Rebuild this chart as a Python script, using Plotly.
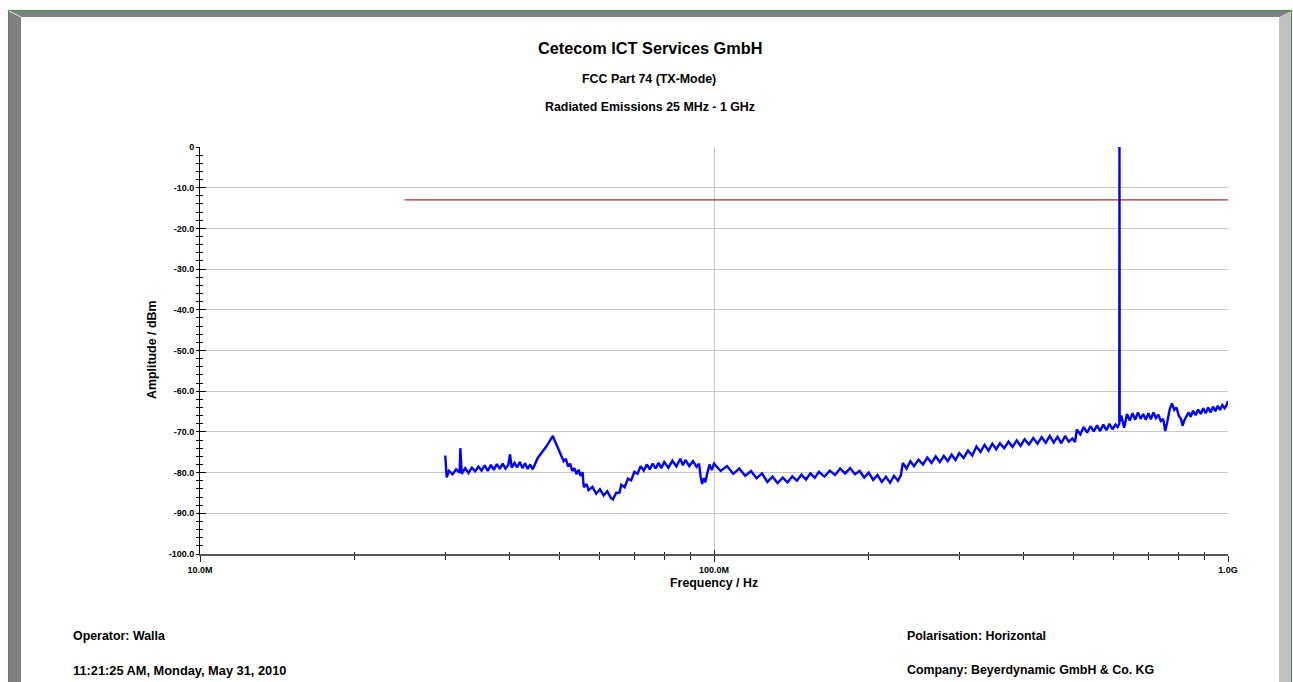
import plotly.graph_objects as go

# ---------------- data ----------------
# measured trace, frequency in MHz, amplitude in dBm
freq_a = [30.0, 30.2, 30.5, 31.0, 31.5, 32.0, 32.1, 32.3, 32.8, 33.3,
          33.8, 34.3, 34.8, 35.3, 35.8, 36.3, 36.8, 37.3, 37.8, 38.3,
          38.8, 39.3, 39.8, 40.1, 40.4, 40.9, 41.4, 41.9, 42.4, 42.9,
          43.4, 43.9, 44.4, 44.9, 45.4, 45.9, 46.4, 46.9, 47.4, 47.9,
          48.3, 48.6, 49.0, 49.5, 50.0, 50.5, 51.0, 51.5, 52.0, 52.5]
amp_a = [-75.8, -81.2, -79.6, -80.4, -79.2, -80.0, -74.0, -80.3, -78.9, -80.1,
         -78.8, -79.7, -78.5, -79.5, -78.2, -79.6, -78.1, -79.3, -77.9, -79.1,
         -77.8, -79.0, -78.1, -75.5, -78.8, -77.6, -78.7, -77.4, -78.9, -77.7,
         -79.1, -78.0, -79.2, -77.8, -76.4, -75.6, -74.9, -74.0, -73.2, -72.2,
         -71.3, -71.0, -72.2, -73.4, -74.6, -75.8, -77.2, -76.6, -78.5, -77.8]

freq_b = [53.0, 53.5, 54.0, 54.5, 55.0, 55.5, 55.8, 56.5, 57.0, 58.0,
          59.0, 60.0, 61.0, 62.0, 63.0, 63.6, 64.5, 65.5, 66.0, 67.0,
          68.0, 69.0, 70.0, 71.0, 72.0, 73.0, 74.0, 75.0, 76.0, 77.0,
          78.0, 79.0, 80.0, 81.5, 83.0, 84.5, 86.0, 87.0, 88.0, 89.5,
          91.0, 92.5, 93.5, 94.2, 94.8, 95.5, 96.2, 97.0, 98.0, 99.0]
amp_b = [-79.6, -78.9, -80.4, -79.3, -80.8, -79.9, -83.6, -82.8, -84.3, -83.5,
         -85.2, -84.1, -85.6, -84.6, -86.2, -86.6, -85.0, -84.9, -83.0, -83.6,
         -81.5, -81.9, -79.8, -80.3, -78.4, -79.5, -78.0, -79.2, -77.8, -79.0,
         -77.6, -78.9, -77.4, -78.8, -77.1, -78.5, -76.6, -78.2, -76.9, -78.4,
         -77.2, -78.6, -77.8, -81.0, -82.8, -81.4, -82.4, -80.2, -78.0, -79.4]

freq_c = [100, 103, 106, 109, 112, 115, 118, 121, 124, 127,
          130, 133, 136, 139, 142, 145, 148, 151, 154, 157,
          160, 164, 168, 172, 176, 180, 184, 188, 192, 196,
          200, 204, 208, 212, 216, 220, 224, 228, 231, 233]
amp_c = [-77.8, -79.6, -78.4, -80.3, -79.0, -80.8, -79.6, -81.4, -80.2, -82.3,
         -81.0, -82.6, -81.2, -82.4, -80.9, -82.0, -80.5, -81.7, -80.2, -81.3,
         -79.8, -81.0, -79.5, -80.6, -79.0, -80.2, -78.9, -80.4, -79.6, -81.2,
         -80.0, -81.8, -80.6, -82.3, -81.0, -82.5, -80.8, -82.0, -80.6, -77.6]

freq_d = [237, 241, 245, 250, 255, 260, 265, 270, 275, 280,
          285, 290, 295, 300, 306, 312, 318, 324, 330, 336,
          342, 348, 354, 360, 367, 374, 381, 388, 395, 402,
          410, 418, 426, 434, 442, 450, 458, 466, 474, 482,
          490, 498, 504]
amp_d = [-79.0, -77.2, -78.4, -76.8, -78.0, -76.3, -77.6, -76.0, -77.4, -75.9,
         -77.2, -75.6, -76.9, -75.2, -76.4, -74.6, -75.8, -73.6, -74.9, -73.2,
         -74.6, -72.9, -74.3, -72.8, -74.0, -72.4, -73.7, -72.1, -73.4, -71.8,
         -73.1, -71.5, -72.9, -71.3, -72.7, -71.0, -72.6, -71.2, -72.8, -71.0,
         -72.4, -71.6, -72.5]

freq_e = [508, 516, 524, 532, 540, 548, 556, 564, 572, 580,
          588, 596, 604, 610, 614.5, 615, 615.5, 620, 628, 636,
          644, 652, 660, 668, 676, 684, 692, 700, 708, 716,
          724, 732, 740, 748, 755, 762, 770, 778, 786, 794,
          802, 810, 816, 822, 830, 838, 846, 855, 865, 875,
          885, 895, 905, 915, 925, 935, 945, 955, 965, 975,
          985, 993, 1000]
amp_e = [-69.4, -70.6, -68.8, -70.2, -68.6, -69.9, -68.4, -69.8, -68.2, -69.6,
         -68.0, -69.4, -68.2, -68.8, -68.0, 0.0, -67.5, -66.0, -69.0, -65.6,
         -67.2, -65.4, -67.0, -65.2, -66.8, -65.6, -67.0, -65.4, -66.9, -65.2,
         -66.6, -65.8, -67.3, -66.8, -69.8, -67.5, -64.5, -63.0, -64.6, -64.0,
         -66.0, -66.8, -68.5, -67.2, -66.0, -65.2, -66.3, -64.8, -65.9, -64.5,
         -65.6, -64.2, -65.4, -64.0, -65.2, -63.8, -64.9, -63.6, -64.6, -63.4,
         -64.2, -63.5, -62.4]

freq_mhz = freq_a + freq_b + freq_c + freq_d + freq_e
amp_dbm = amp_a + amp_b + amp_c + amp_d + amp_e
assert len(freq_mhz) == len(amp_dbm)

# limit line (FCC Part 74) 25 MHz - 1 GHz at -13 dBm
limit_freq_mhz = [25, 1000]
limit_dbm = [-13, -13]

# axis ticks
x_tick_vals = [1e7, 1e8, 1e9]
x_tick_text = ["10.0M", "100.0M", "1.0G"]
x_minor_vals = [2e7, 3e7, 4e7, 5e7, 6e7, 7e7, 8e7, 9e7,
                2e8, 3e8, 4e8, 5e8, 6e8, 7e8, 8e8, 9e8]
y_tick_vals = [0, -10, -20, -30, -40, -50, -60, -70, -80, -90, -100]
y_tick_text = ["0", "-10.0", "-20.0", "-30.0", "-40.0", "-50.0",
               "-60.0", "-70.0", "-80.0", "-90.0", "-100.0"]

title_text = "Cetecom ICT Services GmbH"
subtitle1 = "FCC Part 74 (TX-Mode)"
subtitle2 = "Radiated Emissions 25 MHz - 1 GHz"
x_title = "Frequency / Hz"
y_title = "Amplitude / dBm"
footer_left = ["Operator: Walla", "11:21:25 AM, Monday, May 31, 2010"]
footer_right = ["Polarisation: Horizontal", "Company: Beyerdynamic GmbH & Co. KG"]

# ---------------- layout geometry ----------------
W, H = 1293, 682
PL, PR, PT, PB = 200, 1228, 147, 554
FONT = "Liberation Sans, Arial, Helvetica, sans-serif"


def xp(px):
    return (px - PL) / (PR - PL)


def yp(py):
    return (PB - py) / (PB - PT)


fig = go.Figure()
fig.add_trace(go.Scatter(
    x=[f * 1e6 for f in freq_mhz], y=amp_dbm, mode="lines",
    line=dict(color="#0000ff", width=2.4), hoverinfo="skip",
    xaxis="x", yaxis="y", showlegend=False))
fig.add_trace(go.Scatter(
    x=[f * 1e6 for f in limit_freq_mhz], y=limit_dbm, mode="lines",
    line=dict(color="#800000", width=1), hoverinfo="skip",
    xaxis="x2", yaxis="y2", showlegend=False))

tickfont = dict(family=FONT, size=9, color="#000000")

fig.update_layout(
    width=W, height=H,
    margin=dict(l=PL, r=W - PR, t=PT, b=H - PB, pad=0),
    paper_bgcolor="#ffffff", plot_bgcolor="#ffffff",
    font=dict(family=FONT, color="#000000"),
    showlegend=False,
    xaxis=dict(
        type="log", range=[7, 9], showgrid=True, gridcolor="#c8c8c8", gridwidth=1,
        tickmode="array", tickvals=x_tick_vals,
        ticktext=["<b>%s</b>" % t for t in x_tick_text],
        ticks="outside", ticklen=6, tickwidth=1, tickcolor="#222222",
        minor=dict(tickmode="array", tickvals=x_minor_vals, ticks="outside",
                   ticklen=4, tickwidth=1, tickcolor="#222222", showgrid=False),
        showline=True, linecolor="#555555", linewidth=2,
        zeroline=False, tickfont=tickfont, fixedrange=True),
    yaxis=dict(
        range=[-100, 0], showgrid=True, gridcolor="#c8c8c8", gridwidth=1,
        tickmode="array", tickvals=y_tick_vals,
        ticktext=["<b>%s</b>" % t for t in y_tick_text],
        ticks="outside", ticklen=3, tickwidth=1, tickcolor="#000000",
        minor=dict(dtick=2, tick0=0, ticks="outside", ticklen=3,
                   tickwidth=1, tickcolor="#000000", showgrid=False),
        showline=True, linecolor="#000000", linewidth=1,
        zeroline=False, tickfont=tickfont, fixedrange=True),
    xaxis2=dict(
        type="log", range=[7, 9], overlaying="x", anchor="y2", side="bottom",
        showgrid=False, showline=False, zeroline=False, showticklabels=False,
        tickmode="array", tickvals=x_tick_vals, ticks="inside", ticklen=4,
        tickwidth=1, tickcolor="#222222",
        minor=dict(tickmode="array", tickvals=x_minor_vals, ticks="inside",
                   ticklen=2, tickwidth=1, tickcolor="#222222", showgrid=False),
        fixedrange=True),
    yaxis2=dict(
        range=[-100, 0], overlaying="y", anchor="x2", side="left",
        showgrid=False, showline=False, zeroline=False, showticklabels=False,
        tickmode="array", tickvals=y_tick_vals, ticks="inside", ticklen=6,
        tickwidth=1, tickcolor="#000000",
        minor=dict(dtick=2, tick0=0, ticks="inside", ticklen=3,
                   tickwidth=1, tickcolor="#000000", showgrid=False),
        fixedrange=True),
)

# ---------------- frame (bevelled border) ----------------
GREEN = "#3a9a3a"
shapes = []


def rect(x0, y0, x1, y1, color):
    shapes.append(dict(type="rect", xref="paper", yref="paper",
                       x0=xp(x0), x1=xp(x1), y0=yp(y0), y1=yp(y1),
                       fillcolor=color, line=dict(width=0), layer="above"))


def poly(points, color):
    path = "M " + " L ".join("%f,%f" % (xp(a), yp(b)) for a, b in points) + " Z"
    shapes.append(dict(type="path", xref="paper", yref="paper", path=path,
                       fillcolor=color, line=dict(width=0), layer="above"))


rect(9, 11, 1291, 17, "#808080")          # top dark band
rect(9, 11, 21, H + 2, "#808080")         # left dark band
poly([(1279, 17), (1291, 11), (1291, H + 2), (1279, H + 2)], "#c0c0c0")  # right light band
rect(8, 10, 1292, 11, GREEN)              # outer green line top
rect(8, 10, 9, H + 2, GREEN)              # left
rect(1291, 10, 1292, H + 2, GREEN)        # right
shapes.append(dict(type="line", xref="paper", yref="paper",
                   x0=xp(9), y0=yp(11), x1=xp(21), y1=yp(17),
                   line=dict(color="#e8e8e8", width=1), layer="above"))
fig.update_layout(shapes=shapes)

# ---------------- texts ----------------
def label(text, x, y, size, xanchor="center", angle=0):
    fig.add_annotation(text="<b>%s</b>" % text, x=xp(x), y=yp(y),
                       xref="paper", yref="paper", showarrow=False,
                       xanchor=xanchor, yanchor="middle", textangle=angle,
                       borderpad=0,
                       font=dict(family=FONT, size=size, color="#000000"))


label(title_text, 650, 48, 16.3)
label(subtitle1, 649, 79, 12.4)
label(subtitle2, 650, 107, 12.4)
label(x_title, 714, 583, 12.4)
label(y_title, 152, 350, 12.4, angle=-90)
label(footer_left[0], 72, 636, 12.4, xanchor="left")
label(footer_left[1], 72, 670, 12.8, xanchor="left")
label(footer_right[0], 906, 636, 12.4, xanchor="left")
label(footer_right[1], 906, 670, 12.4, xanchor="left")

fig.write_html("out.html", config={"displayModeBar": False},
               post_script="document.body.style.margin='0px';"
                           "document.body.style.overflow='hidden';")
